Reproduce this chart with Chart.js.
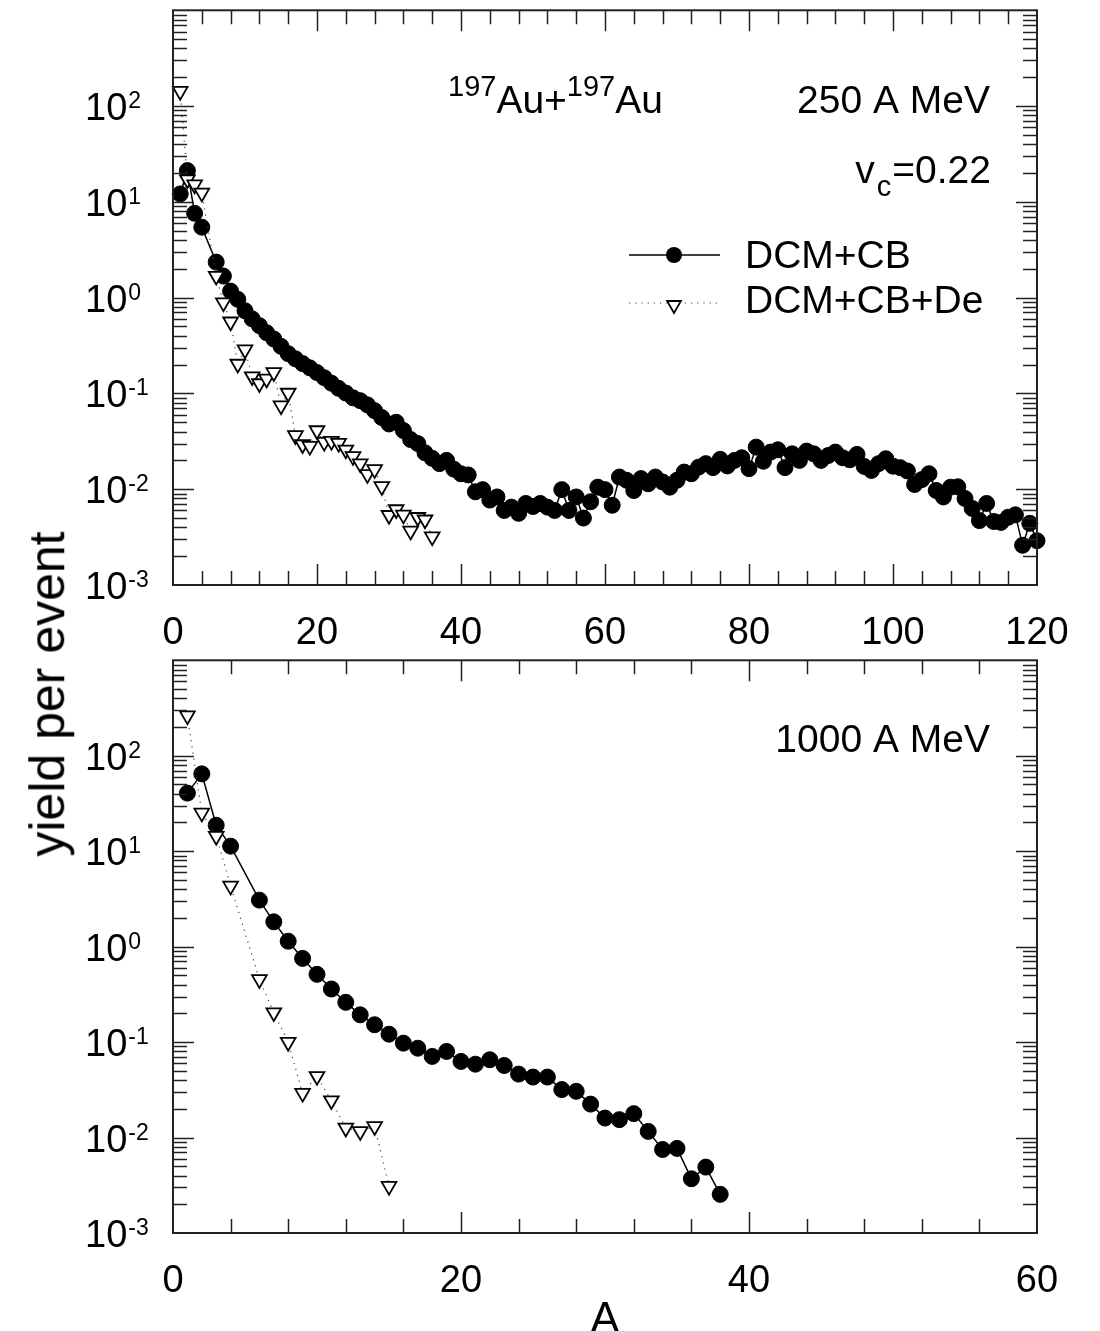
<!DOCTYPE html>
<html>
<head>
<meta charset="utf-8">
<script src="https://cdn.jsdelivr.net/npm/chart.js"></script>
<style>
  html, body { margin: 0; padding: 0; background: #fff; }
  body { width: 1100px; height: 1331px; position: relative; overflow: hidden; font-family: "Liberation Sans", Arial, sans-serif; }
  #c1 { position: absolute; left: 0; top: 0; }
  #c2 { position: absolute; left: 0; top: 650px; }
  #ytitle { position: absolute; left: 48px; top: 694px; transform: translate(-50%, -50%) rotate(-90deg);
            font-size: 50px; line-height: 1.15; white-space: nowrap; color: #000; }
  #xtitle { position: absolute; left: 605px; top: 1296px; transform: translateX(-50%);
            font-size: 44px; line-height: 1; color: #000; }
</style>
</head>
<body>
<canvas id="c1" width="1100" height="650"></canvas>
<canvas id="c2" width="1100" height="681"></canvas>
<div id="ytitle">yield per event</div>
<div id="xtitle">A</div>
<script>
// ---------------- data ----------------
// 250 A MeV, DCM+CB (filled circles)
const A_CB_250 = [1,2,3,4,6,7,8,9,10,11,12,13,14,15,16,17,18,19,20,21,22,23,24,25,26,27,28,29,30,
  31,32,33,34,35,36,37,38,39,40,41,42,43,44,45,46,47,48,49,50,51,52,53,54,55,56,57,58,59,60,
  61,62,63,64,65,66,67,68,69,70,71,72,73,74,75,76,77,78,79,80,81,82,83,84,85,86,87,88,89,90,
  91,92,93,94,95,96,97,98,99,100,101,102,103,104,105,106,107,108,109,110,111,112,113,114,115,116,117,118,119,120];
const Y_CB_250 = [12.1,21.2,7.6,5.44,2.35,1.68,1.17,0.96,0.73,0.60,0.51,0.43,0.37,0.31,0.26,0.23,0.205,0.185,0.165,0.146,0.128,0.113,0.101,0.090,0.084,0.076,0.066,0.056,0.048,
  0.050,0.041,0.033,0.030,0.024,0.021,0.0185,0.020,0.0162,0.0145,0.0141,0.0094,0.0099,0.0077,0.0083,0.0060,0.0065,0.0056,0.0071,0.0066,0.0071,0.0065,0.0060,0.0099,0.0060,0.0083,0.0050,0.0074,0.0105,0.0099,
  0.0068,0.0134,0.0124,0.0097,0.0129,0.0114,0.0134,0.0119,0.0105,0.0124,0.0151,0.0145,0.0170,0.0185,0.0168,0.0205,0.0175,0.0200,0.0213,0.0164,0.0275,0.0196,0.0244,0.0258,0.0168,0.0234,0.0200,0.0250,0.0234,0.0200,
  0.0225,0.0244,0.0213,0.0203,0.0231,0.0173,0.0157,0.0185,0.0208,0.0174,0.0168,0.0155,0.0112,0.0126,0.0145,0.0097,0.0083,0.0105,0.0106,0.0080,0.0063,0.0047,0.0071,0.0046,0.0045,0.0051,0.0054,0.0026,0.0044,0.0029];
// 250 A MeV, DCM+CB+De (open triangles)
const A_DE_250 = [1,2,3,4,6,7,8,9,10,11,12,13,14,15,16,17,18,19,20,21,22,23,24,25,26,27,28,29,30,31,32,33,34,35,36];
const Y_DE_250 = [143,17.1,15.1,12.4,1.68,0.887,0.56,0.203,0.286,0.150,0.127,0.142,0.166,0.0746,0.101,0.0364,0.0293,0.0282,0.041,0.031,0.0318,0.0303,0.0258,0.022,0.0185,0.0143,0.0161,0.0107,0.00535,0.00614,0.0054,0.00367,0.0051,0.0048,0.0032];
// 1000 A MeV, DCM+CB
const A_CB_1000 = [1,2,3,4,6,7,8,9,10,11,12,13,14,15,16,17,18,19,20,21,22,23,24,25,26,27,28,29,30,31,32,33,34,35,36,37,38];
const Y_CB_1000 = [40.6,64.6,18.7,11.3,3.07,1.82,1.14,0.753,0.513,0.36,0.261,0.193,0.152,0.121,0.0975,0.0863,0.0708,0.0798,0.0627,0.0587,0.0653,0.0569,0.0462,0.043,0.043,0.0318,0.0305,0.0224,0.016,0.0154,0.0178,0.0116,0.0075,0.0077,0.0037,0.0049,0.00254];
// 1000 A MeV, DCM+CB+De
const A_DE_1000 = [1,2,3,4,6,7,8,9,10,11,12,13,14,15];
const Y_DE_1000 = [263,25.2,14.4,4.33,0.454,0.204,0.0998,0.0292,0.0438,0.0244,0.0126,0.0116,0.0131,0.0031];

// axis ticks / labels
const X_TICKS_TOP = [0,20,40,60,80,100,120];
const X_TICKS_BOTTOM = [0,20,40,60];
const Y_EXPONENTS = [-3,-2,-1,0,1,2];

// ---------------- helpers ----------------
const FONT = '"Liberation Sans", Arial, sans-serif';
function pts(xs, ys) { return xs.map((x, i) => ({ x: x, y: ys[i] })); }

function drawTri(ctx, x, y, r) {
  ctx.beginPath();
  for (let k = 0; k < 3; k++) {
    const a = Math.PI + k * 2 * Math.PI / 3;
    const px = x + Math.sin(a) * r, py = y - Math.cos(a) * r;
    if (k === 0) ctx.moveTo(px, py); else ctx.lineTo(px, py);
  }
  ctx.closePath();
  ctx.fillStyle = '#fff'; ctx.fill();
  ctx.lineWidth = 1.8; ctx.strokeStyle = '#000'; ctx.stroke();
}

function axesPlugin(opt) {
  return {
    id: 'axes_' + opt.id,
    afterDatasetsDraw(chart) {
      const ctx = chart.ctx, a = chart.chartArea;
      const xs = chart.scales.x, ys = chart.scales.y;
      ctx.save();
      // ticks
      ctx.strokeStyle = '#222'; ctx.lineWidth = 1.5;
      ctx.beginPath();
      for (let v = opt.minorStep; v < opt.xMax; v += opt.minorStep) {
        const px = Math.round(xs.getPixelForValue(v)) + 0.5;
        const L = (Math.abs(v % 20) < 1e-9) ? 21 : 14;
        ctx.moveTo(px, a.bottom); ctx.lineTo(px, a.bottom - L);
        ctx.moveTo(px, a.top); ctx.lineTo(px, a.top + L);
      }
      for (let e = -3; e <= 2; e++) {
        for (let m = 1; m <= 9; m++) {
          if (e === -3 && m === 1) continue;
          const v = m * Math.pow(10, e);
          const py = Math.round(ys.getPixelForValue(v)) + 0.5;
          const L = (m === 1) ? 21 : 14;
          ctx.moveTo(a.left, py); ctx.lineTo(a.left + L, py);
          ctx.moveTo(a.right, py); ctx.lineTo(a.right - L, py);
        }
      }
      ctx.stroke();
      // frame
      ctx.lineWidth = 2; ctx.strokeStyle = '#222';
      ctx.strokeRect(a.left, a.top, a.right - a.left, a.bottom - a.top);
      // x tick labels
      ctx.fillStyle = '#000';
      ctx.font = '38px ' + FONT;
      ctx.textAlign = 'center'; ctx.textBaseline = 'alphabetic';
      opt.xTicks.forEach(v => {
        ctx.fillText(String(v), xs.getPixelForValue(v), a.bottom + 58.5);
      });
      // y tick labels 10^e
      Y_EXPONENTS.forEach(e => {
        const py = ys.getPixelForValue(Math.pow(10, e));
        ctx.textAlign = 'left';
        ctx.font = '38px ' + FONT;
        ctx.fillText('10', 85, py + 14);
        const w = ctx.measureText('10').width;
        ctx.font = '23px ' + FONT;
        ctx.fillText(String(e), 85 + w + 1, py + 2);
      });
      if (opt.extra) opt.extra(ctx, a);
      ctx.restore();
    }
  };
}

function makeChart(id, xMax, cb, de, padding, opt) {
  return new Chart(document.getElementById(id), {
    type: 'line',
    data: {
      datasets: [
        {
          label: 'DCM+CB+De', data: de, order: 0,
          borderColor: '#444', borderWidth: 1.2, borderDash: [1.2, 5],
          pointStyle: 'triangle', rotation: 180, pointRadius: 8.5,
          pointBackgroundColor: '#fff', pointBorderColor: '#000', pointBorderWidth: 1.8,
          tension: 0, clip: false, fill: false
        },
        {
          label: 'DCM+CB', data: cb, order: 1,
          borderColor: '#000', borderWidth: 1.5,
          pointStyle: 'circle', pointRadius: 8,
          pointBackgroundColor: '#000', pointBorderColor: '#000', pointBorderWidth: 1,
          tension: 0, clip: false, fill: false
        }
      ]
    },
    options: {
      responsive: false, animation: false, devicePixelRatio: 1,
      layout: { padding: padding },
      plugins: { legend: { display: false }, tooltip: { enabled: false } },
      scales: {
        x: { type: 'linear', min: 0, max: xMax, display: false },
        y: { type: 'logarithmic', min: 1e-3, max: 1e3, display: false }
      }
    },
    plugins: [axesPlugin(opt)]
  });
}

// ---------------- top panel: 250 A MeV ----------------
makeChart('c1', 120, pts(A_CB_250, Y_CB_250), pts(A_DE_250, Y_DE_250),
  { left: 173, right: 63, top: 9, bottom: 65 },
  { id: 'top', xMax: 120, minorStep: 4, xTicks: X_TICKS_TOP,
    extra: function (ctx, a) {
      ctx.fillStyle = '#000';
      ctx.textAlign = 'left';
      // 197Au+197Au
      let x = 448;
      const parts = [['197', 29, 96], ['Au+', 39, 113], ['197', 29, 96], ['Au', 39, 113]];
      parts.forEach(p => { ctx.font = p[1] + 'px ' + FONT; ctx.fillText(p[0], x, p[2]); x += ctx.measureText(p[0]).width; });
      // 250 A MeV
      ctx.font = '39px ' + FONT; ctx.textAlign = 'right';
      ctx.fillText('250 A MeV', 990, 113);
      // v_c=0.22
      ctx.font = '39px ' + FONT;
      const w1 = ctx.measureText('=0.22').width;
      ctx.fillText('=0.22', 991, 183);
      ctx.font = '29px ' + FONT;
      const wc = ctx.measureText('c').width;
      ctx.fillText('c', 991 - w1 - 1, 196);
      ctx.font = '39px ' + FONT;
      ctx.fillText('v', 991 - w1 - wc - 3, 183);
      // legend
      ctx.textAlign = 'left';
      ctx.strokeStyle = '#000'; ctx.lineWidth = 1.5;
      ctx.beginPath(); ctx.moveTo(629, 255); ctx.lineTo(720, 255); ctx.stroke();
      ctx.beginPath(); ctx.arc(674, 255, 8, 0, 2 * Math.PI); ctx.fillStyle = '#000'; ctx.fill();
      ctx.fillText('DCM+CB', 745, 268);
      ctx.save();
      ctx.strokeStyle = '#444'; ctx.lineWidth = 1.2; ctx.setLineDash([1.2, 5]);
      ctx.beginPath(); ctx.moveTo(629, 303); ctx.lineTo(720, 303); ctx.stroke();
      ctx.restore();
      drawTri(ctx, 674, 305, 8);
      ctx.fillStyle = '#000';
      ctx.font = '39px ' + FONT;
      ctx.fillText('DCM+CB+De', 745, 313);
    }
  });

// ---------------- bottom panel: 1000 A MeV ----------------
makeChart('c2', 60, pts(A_CB_1000, Y_CB_1000), pts(A_DE_1000, Y_DE_1000),
  { left: 173, right: 63, top: 7, bottom: 98 },
  { id: 'bot', xMax: 60, minorStep: 4, xTicks: X_TICKS_BOTTOM,
    extra: function (ctx, a) {
      ctx.fillStyle = '#000';
      ctx.font = '39px ' + FONT; ctx.textAlign = 'right';
      ctx.fillText('1000 A MeV', 990, 102);
    }
  });
</script>
</body>
</html>
